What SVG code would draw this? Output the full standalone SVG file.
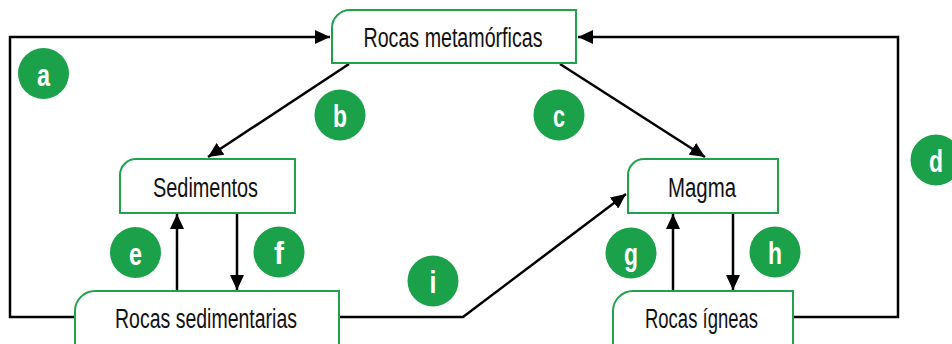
<svg xmlns="http://www.w3.org/2000/svg" width="952" height="344" viewBox="0 0 952 344">
<style>
.box{fill:#fff;stroke:#1fa24b;stroke-width:2}
.lbl{font-family:"Liberation Sans",Arial,sans-serif;font-size:27px;fill:#111;text-anchor:middle}
.con{fill:none;stroke:#000;stroke-width:2.5}
.badge circle{fill:#1aa14a}
.badge text{font-family:"Liberation Sans",Arial,sans-serif;font-weight:bold;font-size:31px;fill:#fff;text-anchor:middle}
</style>
<defs>
<marker id="ah" markerUnits="userSpaceOnUse" markerWidth="16" markerHeight="14" refX="15" refY="7" orient="auto">
<path d="M0,0 L15,7 L0,14 Z" fill="#000"/>
</marker>
</defs>
<g id="connectors">
<polyline class="con" points="75,317 10,317 10,37 330,37" marker-end="url(#ah)"/>
<polyline class="con" points="793,317 898,317 898,37 578,37" marker-end="url(#ah)"/>
<line class="con" x1="349" y1="64" x2="208" y2="157" marker-end="url(#ah)"/>
<line class="con" x1="560" y1="64" x2="705" y2="157" marker-end="url(#ah)"/>
<line class="con" x1="177" y1="291" x2="177" y2="214" marker-end="url(#ah)"/>
<line class="con" x1="237" y1="213" x2="237" y2="290" marker-end="url(#ah)"/>
<line class="con" x1="673" y1="291" x2="673" y2="214" marker-end="url(#ah)"/>
<line class="con" x1="733" y1="213" x2="733" y2="290" marker-end="url(#ah)"/>
<polyline class="con" points="339,317 463,317 626,194" marker-end="url(#ah)"/>
</g>
<g id="node-metamorficas">
<path class="box" d="M332,63 L332,28 A18,18 0 0 1 350,10 L576,10 L576,63 Z"/>
<text class="lbl" x="453" y="47" textLength="179" lengthAdjust="spacingAndGlyphs">Rocas metamórficas</text>
</g>
<g id="node-sedimentos">
<path class="box" d="M120,213 L120,175 A16,16 0 0 1 136,159 L295,159 L295,213 Z"/>
<text class="lbl" x="205.5" y="197" textLength="105" lengthAdjust="spacingAndGlyphs">Sedimentos</text>
</g>
<g id="node-magma">
<path class="box" d="M628,213 L628,175 A16,16 0 0 1 644,159 L778,159 L778,213 Z"/>
<text class="lbl" x="702" y="197" textLength="68" lengthAdjust="spacingAndGlyphs">Magma</text>
</g>
<g id="node-sedimentarias">
<path class="box" d="M75,360 L75,311 A20,20 0 0 1 95,291 L339,291 L339,360 Z"/>
<text class="lbl" x="206" y="328" textLength="182" lengthAdjust="spacingAndGlyphs">Rocas sedimentarias</text>
</g>
<g id="node-igneas">
<path class="box" d="M613,360 L613,311 A20,20 0 0 1 633,291 L793,291 L793,360 Z"/>
<text class="lbl" x="701.5" y="328" textLength="113" lengthAdjust="spacingAndGlyphs">Rocas ígneas</text>
</g>
<g id="badge-a" class="badge"><circle cx="43.5" cy="73.5" r="25.5"/><text x="43.5" y="85.5" textLength="13" lengthAdjust="spacingAndGlyphs">a</text></g>
<g id="badge-b" class="badge"><circle cx="340" cy="115" r="25.5"/><text x="340" y="127" textLength="14" lengthAdjust="spacingAndGlyphs">b</text></g>
<g id="badge-c" class="badge"><circle cx="559" cy="115" r="25.5"/><text x="559" y="127" textLength="12" lengthAdjust="spacingAndGlyphs">c</text></g>
<g id="badge-d" class="badge"><circle cx="936" cy="160" r="25.5"/><text x="936" y="172" textLength="14" lengthAdjust="spacingAndGlyphs">d</text></g>
<g id="badge-e" class="badge"><circle cx="135.5" cy="252.5" r="25.5"/><text x="135.5" y="264.5" textLength="13" lengthAdjust="spacingAndGlyphs">e</text></g>
<g id="badge-f" class="badge"><circle cx="279" cy="252" r="25.5"/><text x="279" y="264" textLength="10" lengthAdjust="spacingAndGlyphs">f</text></g>
<g id="badge-g" class="badge"><circle cx="631" cy="253" r="25.5"/><text x="631" y="265" textLength="14" lengthAdjust="spacingAndGlyphs">g</text></g>
<g id="badge-h" class="badge"><circle cx="775" cy="252" r="25.5"/><text x="775" y="264" textLength="14" lengthAdjust="spacingAndGlyphs">h</text></g>
<g id="badge-i" class="badge"><circle cx="433" cy="281" r="25.5"/><text x="433" y="293" textLength="7" lengthAdjust="spacingAndGlyphs">i</text></g>
</svg>
